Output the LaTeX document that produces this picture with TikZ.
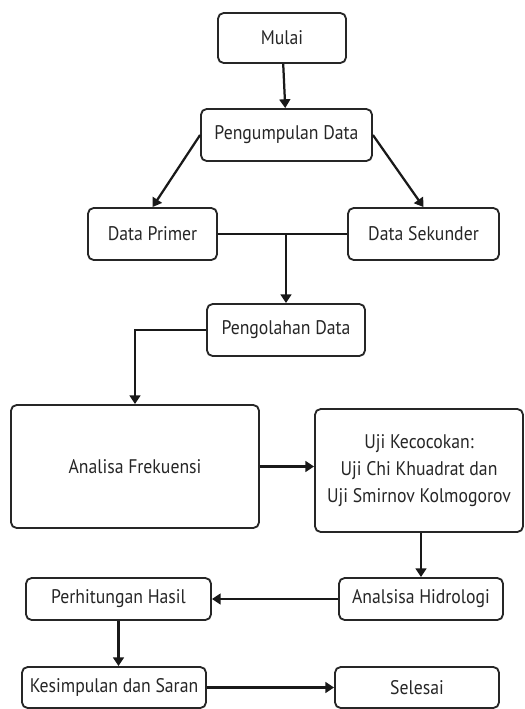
\documentclass[tikz,border=0pt]{standalone}
\usepackage{fontspec}
\setmainfont[FakeStretch=0.9]{PT Sans}
\usetikzlibrary{arrows.meta}

\begin{document}
\begin{tikzpicture}[box/.style = {draw = black!85, fill = white, rounded corners = 4pt, line width = 1.3pt, align = center, inner sep = 0pt, text = black!85, font = \fontsize{14}{19}\selectfont}, line/.style = {line width = 1.6pt, black!90}, >={Triangle[length=2.2mm,width=2.7mm]}]
				\useasboundingbox (0,0) rectangle (13.1,-17.725);
				\node[box, minimum width=3.2cm, minimum height=1.25cm] (mulai) at (7.05,-0.95) {Mulai};
				\node[box, minimum width=4.275cm, minimum height=1.3cm] (kumpul) at (7.1625,-3.375) {Pengumpulan Data};
				\node[box, minimum width=3.225cm, minimum height=1.3cm] (primer) at (3.8125,-5.85) {Data Primer};
				\node[box, minimum width=3.775cm, minimum height=1.3cm] (sekunder) at (10.5875,-5.85) {Data Sekunder};
				\node[box, minimum width=3.95cm, minimum height=1.3cm] (olah) at (7.15,-8.25) {Pengolahan Data};
				\node[box, minimum width=6.2cm, minimum height=3.075cm] (frek) at (3.375,-11.6625) {Analisa Frekuensi};
				\node[box, minimum width=5.2cm, minimum height=3.075cm] (uji) at (10.475,-11.7625) {Uji Kecocokan:\\Uji Chi Khuadrat dan\\Uji Smirnov Kolmogorov};
				\node[box, minimum width=4.1cm, minimum height=1.05cm] (hidro) at (10.525,-14.975) {Analsisa Hidrologi};
				\node[box, minimum width=4.625cm, minimum height=1.05cm] (hitung) at (2.9625,-14.975) {Perhitungan Hasil};
				\node[box, minimum width=4.6cm, minimum height=1.025cm] (simpul) at (2.85,-17.1875) {Kesimpulan dan Saran};
				\node[box, minimum width=4.1cm, minimum height=1.025cm] (selesai) at (10.425,-17.1875) {Selesai};
				\coordinate (gabung) at (olah.north |- primer.east);
				\draw[line, ->] (mulai) -- (kumpul);
				\draw[line, ->] (kumpul.west) -- (primer.north);
				\draw[line, ->] (kumpul.east) -- (sekunder.north);
				\draw[line] (primer.east) -- (sekunder.west);
				\draw[line, ->] (gabung) -- (olah.north);
				\draw[line, ->] (olah.west) -| (frek.north);
				\draw[line, ->] (frek.east) -- (frek.east -| uji.west);
				\draw[line, ->] (uji.south -| hidro.north) -- (hidro.north);
				\draw[line, ->] (hidro.west) -- (hitung.east);
				\draw[line, ->] (hitung.south) -- (hitung.south |- simpul.north);
				\draw[line, ->] (simpul.east) -- (selesai.west);
			\end{tikzpicture}
\end{document}
